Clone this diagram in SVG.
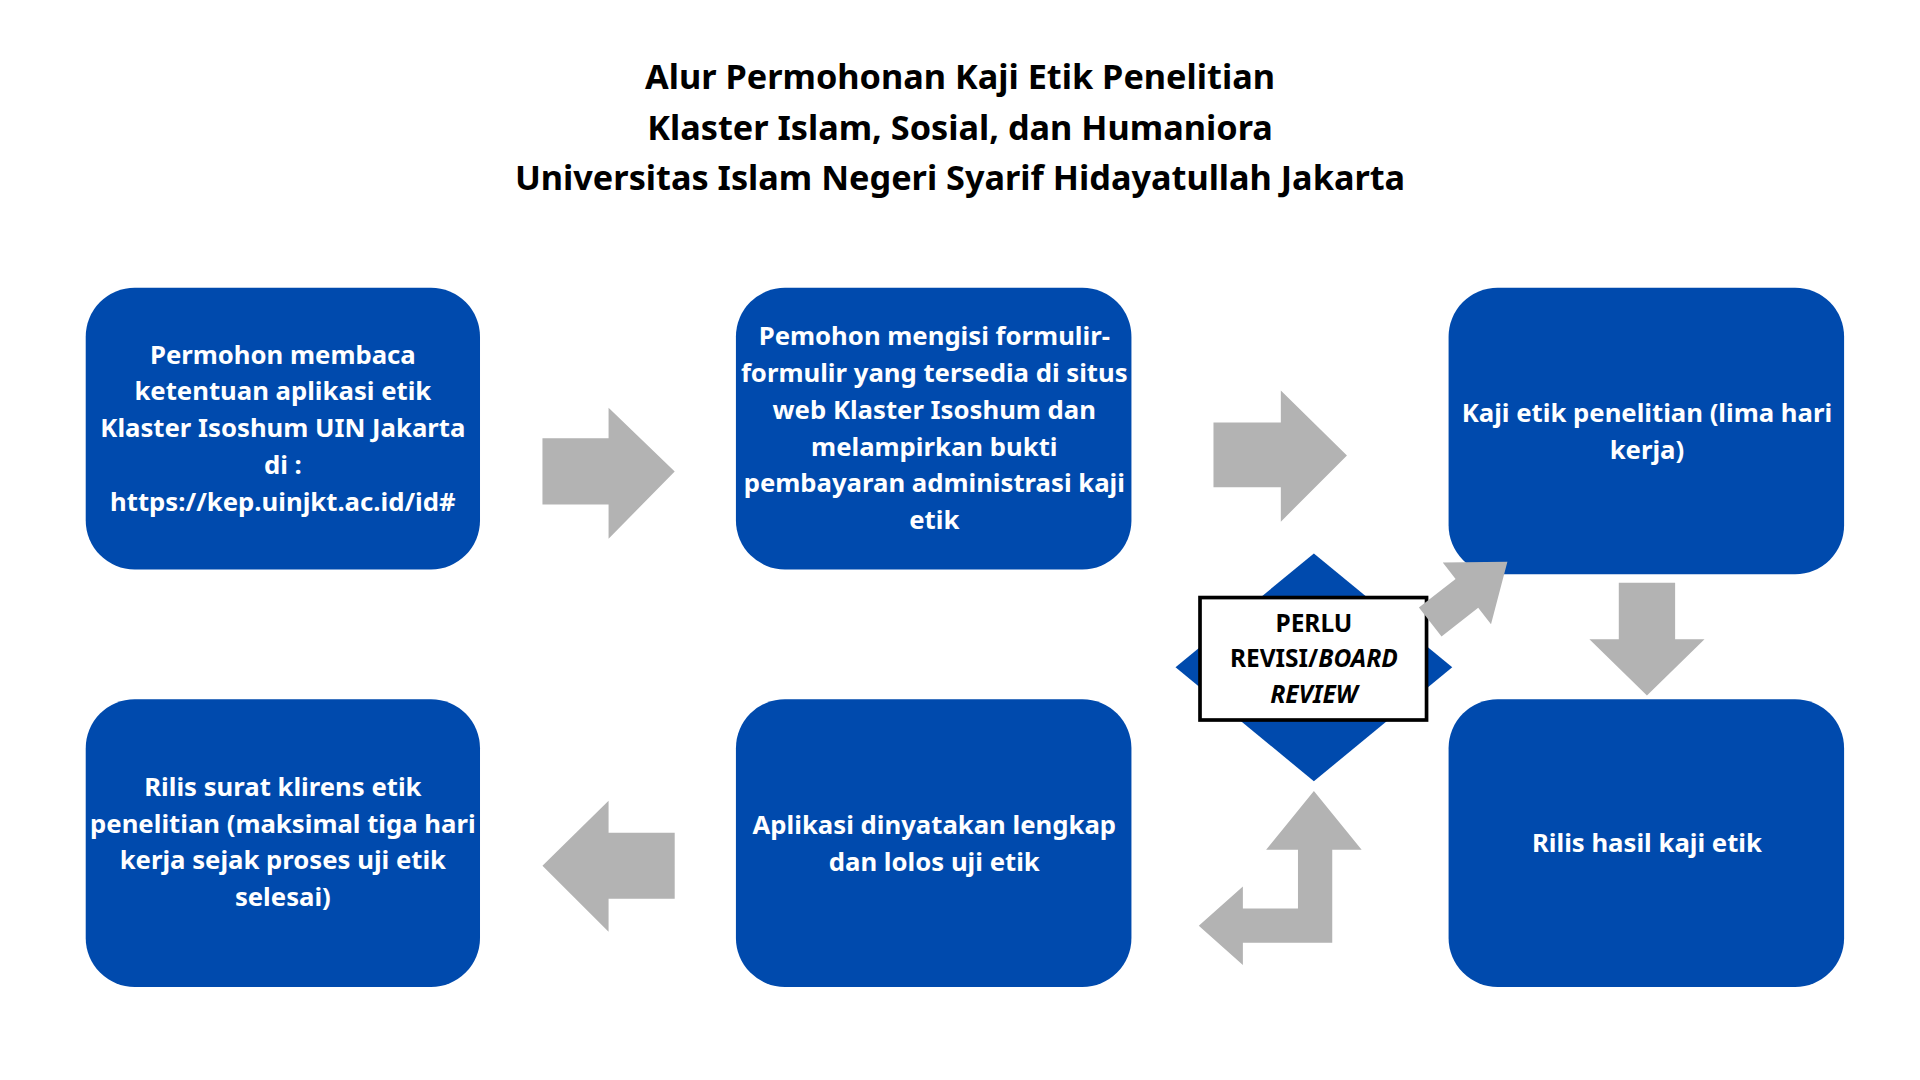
<svg xmlns="http://www.w3.org/2000/svg" width="1920" height="1080" viewBox="0 0 1920 1080">
<style>
.box{fill:#004aad}
.arr{fill:#b3b3b3}
.t{font-family:"Noto Sans","Open Sans",sans-serif;font-weight:bold;font-size:21px;fill:#fff;text-anchor:middle}
.h{font-family:"Noto Sans","Open Sans",sans-serif;font-weight:bold;font-size:28px;fill:#000;text-anchor:middle}
.d{font-family:"Noto Sans","Open Sans",sans-serif;font-weight:bold;font-size:20px;fill:#000;text-anchor:middle}
</style>
<rect width="1920" height="1080" fill="#fff"/>
<g transform="scale(1.2245)">
<g id="title">
<text class="h" x="784" y="73">Alur Permohonan Kaji Etik Penelitian</text>
<text class="h" x="784" y="114">Klaster Islam, Sosial, dan Humaniora</text>
<text class="h" x="784" y="155">Universitas Islam Negeri Syarif Hidayatullah Jakarta</text>
</g>
<g id="n1"><rect class="box" x="70" y="235" width="322" height="230" rx="40"/>
<text class="t" x="231" y="297">Permohon membaca</text><text class="t" x="231" y="327">ketentuan aplikasi etik</text><text class="t" x="231" y="357">Klaster Isoshum UIN Jakarta</text><text class="t" x="231" y="387">di :</text><text class="t" x="231" y="417">https://kep.uinjkt.ac.id/id#</text></g>
<g id="n2"><rect class="box" x="601" y="235" width="323" height="230" rx="40"/>
<text class="t" x="763" y="282">Pemohon mengisi formulir-</text><text class="t" x="763" y="312">formulir yang tersedia di situs</text><text class="t" x="763" y="342">web Klaster Isoshum dan</text><text class="t" x="763" y="372">melampirkan bukti</text><text class="t" x="763" y="402">pembayaran administrasi kaji</text><text class="t" x="763" y="432">etik</text></g>
<g id="n3"><rect class="box" x="1183" y="235" width="323" height="234" rx="40"/>
<text class="t" x="1345" y="345">Kaji etik penelitian (lima hari</text><text class="t" x="1345" y="375">kerja)</text></g>
<g id="n4"><rect class="box" x="70" y="571" width="322" height="235" rx="40"/>
<text class="t" x="231" y="650">Rilis surat klirens etik</text><text class="t" x="231" y="680">penelitian (maksimal tiga hari</text><text class="t" x="231" y="710">kerja sejak proses uji etik</text><text class="t" x="231" y="740">selesai)</text></g>
<g id="n5"><rect class="box" x="601" y="571" width="323" height="235" rx="40"/>
<text class="t" x="763" y="681">Aplikasi dinyatakan lengkap</text><text class="t" x="763" y="711">dan lolos uji etik</text></g>
<g id="n6"><rect class="box" x="1183" y="571" width="323" height="235" rx="40"/>
<text class="t" x="1345" y="696">Rilis hasil kaji etik</text></g>
<g id="n7">
<polygon class="box" points="1073,452 1186,545 1073,638 960,545"/>
<rect x="980" y="488" width="185" height="100" fill="#fff" stroke="#000" stroke-width="3"/>
<text class="d" x="1073" y="516">PERLU</text>
<text class="d" x="1073" y="545">REVISI/<tspan font-style="italic">BOARD</tspan></text>
<text class="d" x="1073" y="574" font-style="italic">REVIEW</text>
</g>
<g id="connectors">
<polygon class="arr" points="443,358 497,358 497,333 551,385 497,440 497,412 443,412"/>
<polygon class="arr" points="991,345 1046,345 1046,319 1100,372 1046,426 1046,398 991,398"/>
<polygon class="arr" points="1322,476 1368,476 1368,522 1392,522 1345,568 1298,522 1322,522"/>
<polygon class="arr" points="551,680 497,680 497,654 443,707 497,761 497,734 551,734"/>
<polygon class="arr" points="0,-15 38,-15 38,-32 80,0 38,32 38,15 0,15" transform="translate(1168,508) rotate(-38)"/>
<polygon class="arr" points="1073,646 1112,694 1088,694 1088,770 1015,770 1015,788 979,756 1015,724 1015,742 1060,742 1060,694 1034,694"/>
</g>
</g>
</svg>
